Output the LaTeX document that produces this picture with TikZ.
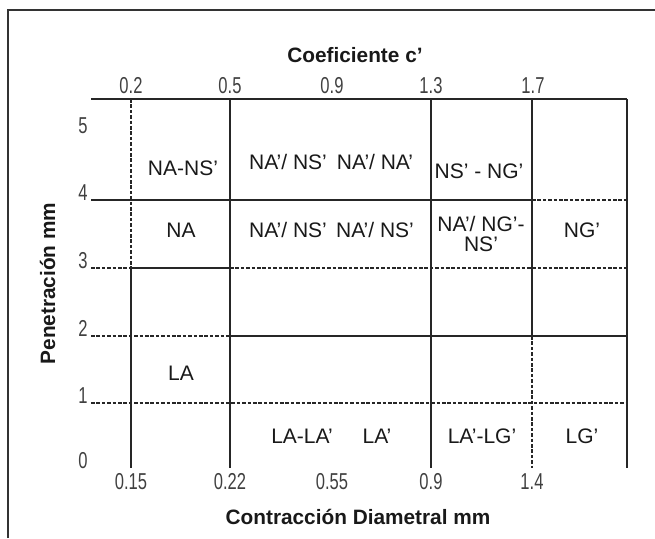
\documentclass[tikz,border=0pt]{standalone}
\usepackage{fontspec}
\setmainfont{Liberation Sans}
\newfontfamily\tickfamily[FakeStretch=0.72]{Liberation Sans}
\usetikzlibrary{positioning}
\tikzstyle{frame}=[line width=0.7pt, black!80]
\tikzstyle{rule}=[line width=0.6pt, black!85]
\tikzstyle{dash rule}=[rule, dash pattern=on 1.8pt off 0.9pt]
\tikzstyle{cell}=[font=\fontsize{10.5}{10}\selectfont, text=black!90, inner sep=0pt, anchor=base]
\tikzstyle{tick}=[font=\tickfamily\fontsize{11.5}{13}\selectfont, text=black!75, inner sep=0pt, anchor=base]
\tikzstyle{axis title}=[font=\bfseries\fontsize{10.4}{12}\selectfont, text=black!90, inner sep=0pt, anchor=base]

\begin{document}
\begin{tikzpicture}[x=0.5pt, y=-0.5pt]
  \useasboundingbox (0,0) rectangle (655,538);
  \draw[frame] (8,538) -- (8,10) -- (655,10);
  % horizontal rules
  \draw[rule] (91,99) -- (627,99);
  \draw[rule] (91,200) -- (532,200);
  \draw[dash rule] (532,200) -- (627,200);
  \draw[dash rule] (91,268) -- (131,268);
  \draw[rule] (131,268) -- (230,268);
  \draw[dash rule] (230,268) -- (627,268);
  \draw[dash rule] (91,336) -- (230,336);
  \draw[rule] (230,336) -- (627,336);
  \draw[dash rule] (91,403) -- (627,403);
  % vertical rules
  \draw[dash rule] (131,99) -- (131,268);
  \draw[rule] (131,268) -- (131,468);
  \draw[rule] (230,99) -- (230,468);
  \draw[rule] (431,99) -- (431,468);
  \draw[rule] (532,99) -- (532,336);
  \draw[dash rule] (532,336) -- (532,468);
  \draw[rule] (627,99) -- (627,468);
  % ticks
  \foreach \v/\x in {0.2/131, 0.5/230, 0.9/332, 1.3/431, 1.7/533}
    \node[tick] (top-\x) at (\x,93) {\v};
  \foreach \v/\x in {0.15/131, 0.22/230, 0.55/332, 0.9/431, 1.4/532}
    \node[tick] (bot-\x) at (\x,489) {\v};
  \foreach \v/\y in {5/133, 4/200, 3/268, 2/336, 1/403, 0/468}
    \node[tick, anchor=base east] (pen-\v) at (88,\y) {\v};
  % axis titles
  \node[axis title] (coef) at (355,62) {Coeficiente c'};
  \node[axis title] (contr) at (358,524) {Contracción Diametral mm};
  \node[axis title, rotate=90] (pen) at (55,283.5) {Penetración mm};
  % cells
  \node[cell] (nans) at (183,175) {NA-NS'};
  \node[cell] (nas1) at (288,169) {NA'/ NS'};
  \node[cell] (naa) at (375,169) {NA'/ NA'};
  \node[cell] (nsng) at (479,178) {NS' - NG'};
  \node[cell] (na) at (181,237) {NA};
  \node[cell] (nas2) at (288,237) {NA'/ NS'};
  \node[cell] (nas3) at (375,237) {NA'/ NS'};
  \node[cell, anchor=center, align=center] (nangs) at (481,233.5) {NA'/ NG'-\\NS'};
  \node[cell] (ng) at (582,237) {NG'};
  \node[cell] (la) at (181,380) {LA};
  \node[cell] (lala) at (302,443) {LA-LA'};
  \node[cell] (la1) at (377,443) {LA'};
  \node[cell] (lalg) at (482,443) {LA'-LG'};
  \node[cell] (lg) at (582,443) {LG'};
\end{tikzpicture}
\end{document}
